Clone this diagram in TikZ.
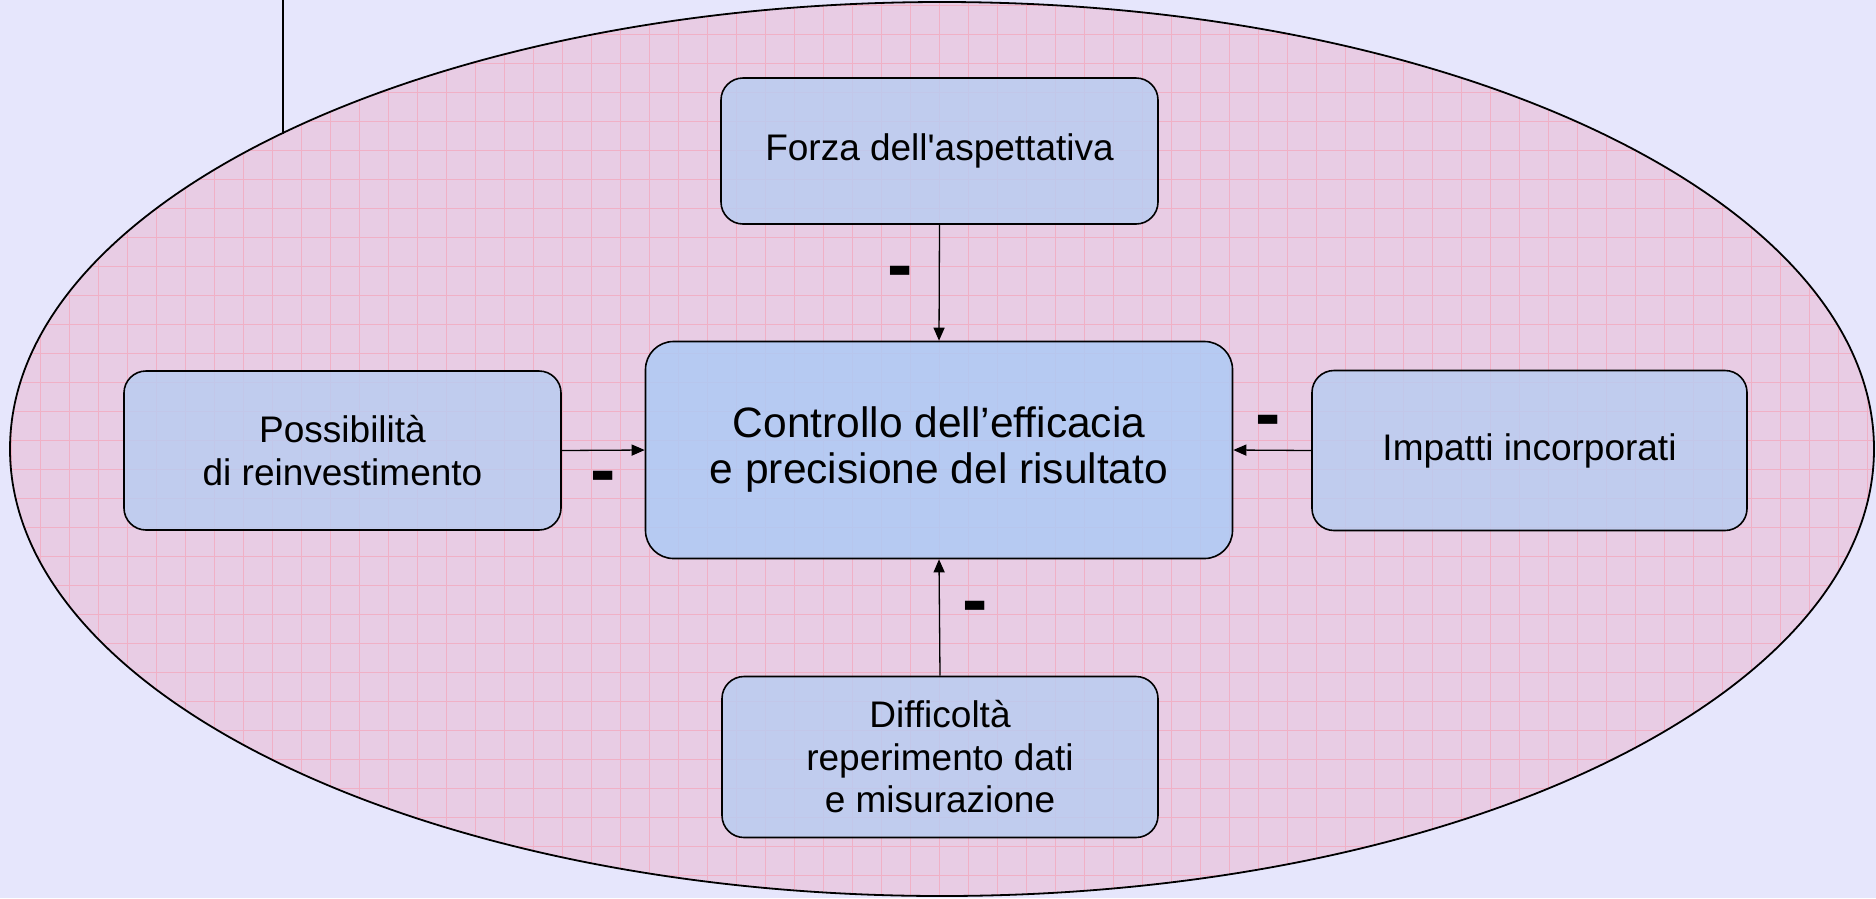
\documentclass[tikz,border=0pt]{standalone}
\usepackage{fontspec}
\setmainfont{Liberation Sans}
\newfontfamily\dritto{Liberation Sans}
\usetikzlibrary{arrows.meta,positioning,shapes}
\definecolor{sfondo}{RGB}{230,230,252}
\definecolor{rosa}{RGB}{232,204,228}
\definecolor{griglia}{RGB}{240,176,198}
\definecolor{azzurro}{RGB}{186,204,240}
\definecolor{azzurrob}{RGB}{174,202,245}

\begin{document}
\begin{tikzpicture}[x=1pt,y=-1pt,inner sep=0pt]
  \tikzstyle{b}=[rectangle,rounded corners=22pt,draw=black,line width=1.6pt,fill=azzurro,fill opacity=0.85,text opacity=1,align=center,minimum width=437pt,minimum height=160pt,font=\fontsize{37}{42.5}\selectfont]
  \tikzstyle{e}=[-{Triangle[length=13pt,width=11pt]},draw=black,line width=1.3pt]
  \tikzstyle{meno}=[font=\fontsize{76}{76}\selectfont\bfseries]
  \useasboundingbox(0,0)rectangle(1876,898);
  \fill[sfondo](0,0)rectangle(1876,898);
  \fill[rosa](942,449)ellipse[x radius=932pt,y radius=447pt];
  \begin{scope}
    \clip(942,449)ellipse[x radius=932pt,y radius=447pt];
    \foreach\gx in{11,40,...,1876}{\draw[griglia,line width=0.8pt](\gx,0)--(\gx,898);}
    \foreach\gy in{5,34,...,898}{\draw[griglia,line width=0.8pt](0,\gy)--(1876,\gy);}
  \end{scope}
  \node[ellipse,draw=black,line width=1.8pt,minimum width=1864pt,minimum height=894pt](area)at(942,449){};
  \coordinate(alto)at(283,0);
  \coordinate(tocco)at(283,134);
  \draw[line width=1.5pt](alto)--(tocco);
  \node[b,minimum height=146pt,font=\fontsize{37}{42.5}\dritto](forza)at(939.5,151){Forza dell'aspettativa};
  \node[b,fill=azzurrob,minimum width=587pt,minimum height=217pt,rounded corners=28pt,font=\fontsize{42.5}{46}\selectfont](ctrl)at(939,450){Controllo dell’efficacia\\e precisione del risultato};
  \node[b,minimum height=159pt](reinv)at(342.5,450.5){Possibilità\\di reinvestimento};
  \node[b,minimum width=435pt](impatti)at(1529.5,450.5){Impatti incorporati};
  \node[b,minimum width=436pt,minimum height=161pt](diff)at(940,757){Difficoltà\\reperimento dati\\ e misurazione};
  \draw[e](forza.south)--(ctrl.north)node[meno,midway,xshift=-39pt,yshift=4pt]{-};
  \draw[e](impatti.west)--(ctrl.east)node[meno,midway,xshift=-4pt,yshift=23pt]{-};
  \draw[e](reinv.east)--(ctrl.west)node[meno,midway,yshift=-33pt]{-};
  \draw[e](diff.north)--(ctrl.south)node[meno,midway,xshift=36pt,yshift=4pt]{-};
\end{tikzpicture}
\end{document}
